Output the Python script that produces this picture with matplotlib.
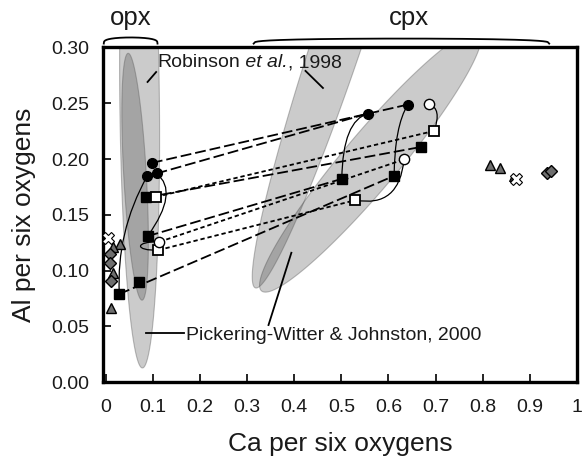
import numpy as np
import matplotlib
matplotlib.use("Agg")
import matplotlib.pyplot as plt
from matplotlib.path import Path
from matplotlib.patches import PathPatch, Polygon

plt.rcParams['font.family'] = ['Liberation Sans', 'DejaVu Sans']

# ---------------- data ----------------
# opx / cpx pairs
opx_filled_circle_x = [0.098, 0.108, 0.088]
opx_filled_circle_y = [0.1965, 0.187, 0.1846]
cpx_filled_circle_x = [0.557, 0.641]
cpx_filled_circle_y = [0.2408, 0.2488]

opx_filled_square_x = [0.086, 0.089, 0.0705, 0.029]
opx_filled_square_y = [0.1655, 0.1308, 0.0899, 0.0789]
cpx_filled_square_x = [0.669, 0.612, 0.501]
cpx_filled_square_y = [0.2108, 0.1849, 0.1822]

opx_open_square_x = [0.107, 0.112]
opx_open_square_y = [0.166, 0.1183]
cpx_open_square_x = [0.697, 0.530]
cpx_open_square_y = [0.2252, 0.1631]

opx_open_circle_x = [0.114]
opx_open_circle_y = [0.1257]
cpx_open_circle_x = [0.686, 0.633]
cpx_open_circle_y = [0.249, 0.1996]

# other samples
tri_x = [0.030, 0.016, 0.016, 0.011, 0.815, 0.836]
tri_y = [0.124, 0.121, 0.098, 0.066, 0.195, 0.192]
small_tri_x = [0.862]
small_tri_y = [0.183]
dia_x = [0.010, 0.009, 0.012, 0.936, 0.944]
dia_y = [0.115, 0.107, 0.091, 0.187, 0.189]
cross_x = [0.005, 0.871]
cross_y = [0.129, 0.182]

# tie lines: (x0, y0, x1, y1)
long_dash_ties = [
    (0.098, 0.1965, 0.641, 0.2488),
    (0.108, 0.187, 0.557, 0.2408),
    (0.086, 0.1655, 0.669, 0.2108),
    (0.089, 0.1308, 0.501, 0.1822),
    (0.029, 0.0789, 0.612, 0.1849),
]
short_dash_ties = [
    (0.107, 0.166, 0.697, 0.2252),
    (0.114, 0.1257, 0.633, 0.1996),
    (0.112, 0.1183, 0.530, 0.1631),
]
# solid curved links: start, controls..., end
curves = [
    [(0.557, 0.2408), (0.503, 0.2348), (0.501, 0.1822)],
    [(0.641, 0.2488), (0.613, 0.2294), (0.612, 0.1849)],
    [(0.686, 0.249), (0.714, 0.2455), (0.697, 0.2252)],
    [(0.633, 0.1996), (0.623, 0.1559), (0.530, 0.1631)],
    [(0.108, 0.187), (0.157, 0.1708), (0.089, 0.1308)],
    [(0.088, 0.1846), (0.022, 0.1344), (0.029, 0.0789)],
    [(0.114, 0.1257), (0.061, 0.1263), (0.061, 0.1174), (0.112, 0.1183)],
]

# field ellipses: center, conjugate semi-diameters u, v (data units)
ellipses = [
    ((0.562, 0.198), (0.223, 0.1174), (0.0757, 0.0)),    # cpx wide
    ((0.503, 0.320), (-0.1837, -0.2357), (0.0558, 0.0)), # cpx steep
    ((0.072, 0.2527), (0.006, -0.2401), (0.042, 0.0)),   # opx long
    ((0.0625, 0.1841), (-0.0147, 0.1107), (0.024, 0.0)), # opx inner
]

xticks = [0, 0.1, 0.2, 0.3, 0.4, 0.5, 0.6, 0.7, 0.8, 0.9, 1.0]
xtick_labels = ["0", "0.1", "0.2", "0.3", "0.4", "0.5", "0.6", "0.7", "0.8", "0.9", "1"]
yticks = [0, 0.05, 0.10, 0.15, 0.20, 0.25, 0.30]
ytick_labels = ["0.00", "0.05", "0.10", "0.15", "0.20", "0.25", "0.30"]

# ---------------- figure ----------------
fig = plt.figure(figsize=(5.84, 4.61), dpi=100)
ax = fig.add_axes([103.3 / 584, 79 / 461, (577 - 103.3) / 584, (382 - 47.5) / 461])
ax.set_xlim(-0.005, 1.0)
ax.set_ylim(0, 0.2997)

txtc = '#1a1a1a'

t = np.linspace(0, 2 * np.pi, 300)
for (c, u, v) in ellipses:
    c, u, v = np.array(c), np.array(u), np.array(v)
    pts = c[None, :] + np.cos(t)[:, None] * u[None, :] + np.sin(t)[:, None] * v[None, :]
    ax.add_patch(Polygon(pts, closed=True, facecolor=(0.2, 0.2, 0.2, 0.25),
                         edgecolor=(0.35, 0.35, 0.35, 0.4), lw=0.8, zorder=1))

for (x0, y0, x1, y1) in long_dash_ties:
    ax.plot([x0, x1], [y0, y1], color='black', lw=1.3, ls=(0, (6, 2.2)), zorder=2)
for (x0, y0, x1, y1) in short_dash_ties:
    ax.plot([x0, x1], [y0, y1], color='black', lw=1.3, ls=(0, (2.4, 1.6)), zorder=2)

for cv in curves:
    if len(cv) == 3:
        codes = [Path.MOVETO, Path.CURVE3, Path.CURVE3]
    else:
        codes = [Path.MOVETO, Path.CURVE4, Path.CURVE4, Path.CURVE4]
    ax.add_patch(PathPatch(Path(cv, codes), fill=False, lw=0.9, edgecolor='black', zorder=2))

mk = dict(ls='none', zorder=4)
ax.plot(opx_filled_square_x, opx_filled_square_y, marker='s', ms=7.8, mfc='black', mec='black', **mk)
ax.plot(cpx_filled_square_x, cpx_filled_square_y, marker='s', ms=7.8, mfc='black', mec='black', **mk)
ax.plot(opx_open_square_x, opx_open_square_y, marker='s', ms=7.8, mfc='white', mec='black', mew=1.3, **mk)
ax.plot(cpx_open_square_x, cpx_open_square_y, marker='s', ms=7.8, mfc='white', mec='black', mew=1.3, **mk)
ax.plot(opx_filled_circle_x, opx_filled_circle_y, marker='o', ms=7.0, mfc='black', mec='black', **mk)
ax.plot(cpx_filled_circle_x, cpx_filled_circle_y, marker='o', ms=7.0, mfc='black', mec='black', **mk)
ax.plot(opx_open_circle_x, opx_open_circle_y, marker='o', ms=7.4, mfc='white', mec='black', mew=1.0, **mk)
ax.plot(cpx_open_circle_x, cpx_open_circle_y, marker='o', ms=7.4, mfc='white', mec='black', mew=1.0, **mk)

ax.plot(tri_x, tri_y, marker='^', ms=7.5, mfc='#6e6e6e', mec='black', mew=1.0, **mk)
ax.plot(small_tri_x, small_tri_y, marker='^', ms=5, mfc='#333333', mec='black', mew=0.8, **mk)
ax.plot(dia_x, dia_y, marker='D', ms=6.0, mfc='#6e6e6e', mec='black', mew=1.0, **mk)
ax.plot(cross_x, cross_y, marker='X', ms=8.5, mfc='white', mec='black', mew=0.8, **mk)

# annotations
t1 = ax.text(0.110, 0.2825, "Robinson", fontsize=14, color=txtc,
             ha='left', va='baseline', zorder=5)
t2 = ax.annotate(" et al.", xy=(1, 0), xycoords=t1, fontsize=14, color=txtc,
                 fontstyle='italic', ha='left', va='bottom', zorder=5)
ax.annotate(", 1998", xy=(1, 0), xycoords=t2, fontsize=14, color=txtc,
            ha='left', va='bottom', zorder=5)
ax.plot([0.0889, 0.1071], [0.2691, 0.2780], color='black', lw=1.3, zorder=5)
ax.plot([0.424, 0.461], [0.279, 0.2637], color='black', lw=1.3, zorder=5)
ax.text(0.171, 0.0421, "Pickering-Witter & Johnston, 2000", fontsize=14, color=txtc,
        ha='left', va='center', zorder=5)
ax.plot([0.086, 0.1666], [0.0439, 0.0439], color='black', lw=1.3, zorder=5)
ax.plot([0.3455, 0.394], [0.0511, 0.1159], color='black', lw=1.3, zorder=5)

# braces above plot
def brace(x0, x1, yb, h):
    tt = np.linspace(-1, 1, 200)
    xs = (x0 + x1) / 2 + tt * (x1 - x0) / 2
    ys = yb + h * (1 - tt ** 2) ** 0.3
    ax.plot(xs, ys, color='black', lw=1.3, clip_on=False, zorder=5)

brace(-0.004, 0.110, 0.3035, 0.0055)
brace(0.314, 0.941, 0.3035, 0.0045)
ax.text(0.053, 0.3199, "opx", fontsize=18.5, color=txtc, ha='center', va='baseline', clip_on=False)
ax.text(0.644, 0.3199, "cpx", fontsize=18.5, color=txtc, ha='center', va='baseline', clip_on=False)

ax.set_xticks(xticks)
ax.set_xticklabels(xtick_labels)
ax.set_yticks(yticks)
ax.set_yticklabels(ytick_labels)
ax.tick_params(axis='x', direction='in', length=6, width=1.2, labelsize=14, labelcolor=txtc, pad=12)
ax.tick_params(axis='y', direction='in', length=6, width=1.2, labelsize=14, labelcolor=txtc, pad=10)
for s in ax.spines.values():
    s.set_linewidth(2.4)
ax.set_xlabel("Ca per six oxygens", fontsize=19, color=txtc, labelpad=12)
ax.set_ylabel("Al per six oxygens", fontsize=19, color=txtc, labelpad=11)

fig.savefig("out.png", dpi=100)
